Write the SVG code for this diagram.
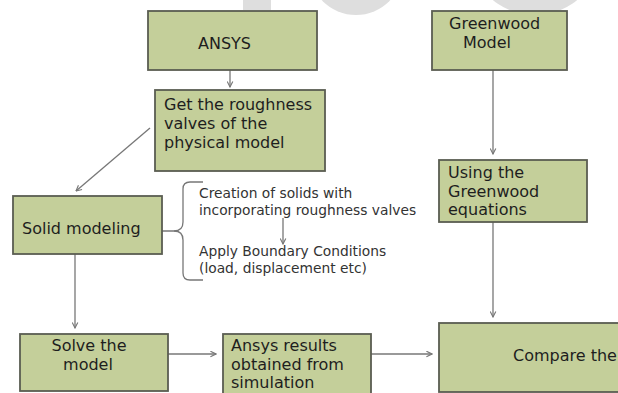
<svg xmlns="http://www.w3.org/2000/svg" width="618" height="393" viewBox="0 0 618 393">
<defs>
<style>
.box{fill:#c4cf9a;stroke:#5a5d52;stroke-width:1.8}
.t{font-family:"DejaVu Sans","Liberation Sans",sans-serif;font-size:16px;fill:#1e1e1e}
.s{font-family:"DejaVu Sans","Liberation Sans",sans-serif;font-size:13.8px;fill:#333}
.c{fill:none;stroke:#777;stroke-width:1.3}
.wm{fill:#dedede}
</style>
<marker id="a" viewBox="0 0 10 10" refX="9" refY="5" markerWidth="7" markerHeight="7" orient="auto" markerUnits="userSpaceOnUse">
<polyline points="1,1 9,5 1,9" fill="none" stroke="#777" stroke-width="1.6"/>
</marker>
</defs>
<rect width="618" height="393" fill="#fff"/>
<g id="watermark">
<rect class="wm" x="243" y="0" width="28" height="10"/>
<circle class="wm" cx="356" cy="-32" r="47"/>
<circle class="wm" cx="535" cy="-52" r="67"/>
</g>
<g id="connectors">
<line class="c" x1="230" y1="70" x2="230" y2="87" marker-end="url(#a)"/>
<line class="c" x1="150" y1="128" x2="76" y2="191" marker-end="url(#a)"/>
<line class="c" x1="75" y1="254" x2="75" y2="328" marker-end="url(#a)"/>
<line class="c" x1="168" y1="354" x2="216" y2="354" marker-end="url(#a)"/>
<line class="c" x1="371" y1="354" x2="432" y2="354" marker-end="url(#a)"/>
<line class="c" x1="493" y1="65" x2="493" y2="154" marker-end="url(#a)"/>
<line class="c" x1="493" y1="222" x2="493" y2="317" marker-end="url(#a)"/>
<line class="c" x1="283" y1="218" x2="283" y2="244" marker-end="url(#a)"/>
<path class="c" d="M162,231 H174 Q183,231 183,222 V189 Q183,182 190,182 H203"/>
<path class="c" d="M174,231 Q183,231 183,240 V273 Q183,280 190,280 H203"/>
</g>
<g id="ansys">
<rect class="box" x="148" y="11" width="169" height="59"/>
<text class="t" x="198" y="49">ANSYS</text>
</g>
<g id="roughness">
<rect class="box" x="155" y="90" width="170" height="81"/>
<text class="t" x="164" y="110">Get the roughness</text>
<text class="t" x="164" y="129">valves of the</text>
<text class="t" x="164" y="148">physical model</text>
</g>
<g id="greenwood-model">
<rect class="box" x="432" y="11" width="135" height="59"/>
<text class="t" x="449" y="29">Greenwood</text>
<text class="t" x="463" y="48">Model</text>
</g>
<g id="greenwood-eq">
<rect class="box" x="439" y="160" width="148" height="62"/>
<text class="t" x="448" y="178">Using the</text>
<text class="t" x="448" y="197">Greenwood</text>
<text class="t" x="448" y="215">equations</text>
</g>
<g id="solid">
<rect class="box" x="13" y="196" width="149" height="58"/>
<text class="t" x="22" y="234">Solid modeling</text>
</g>
<g id="steps">
<text class="s" x="199" y="198">Creation of solids with</text>
<text class="s" x="199" y="215">incorporating roughness valves</text>
<text class="s" x="199" y="256">Apply Boundary  Conditions</text>
<text class="s" x="199" y="273">(load, displacement etc)</text>
</g>
<g id="solve">
<rect class="box" x="20" y="334" width="148" height="57"/>
<text class="t" x="89" y="351" text-anchor="middle">Solve the</text>
<text class="t" x="88" y="370" text-anchor="middle">model</text>
</g>
<g id="results">
<rect class="box" x="223" y="334" width="148" height="60"/>
<text class="t" x="231" y="351">Ansys results</text>
<text class="t" x="231" y="370">obtained from</text>
<text class="t" x="231" y="388">simulation</text>
</g>
<g id="compare">
<rect class="box" x="439" y="323" width="190" height="69"/>
<text class="t" x="513" y="361">Compare the</text>
</g>
</svg>
